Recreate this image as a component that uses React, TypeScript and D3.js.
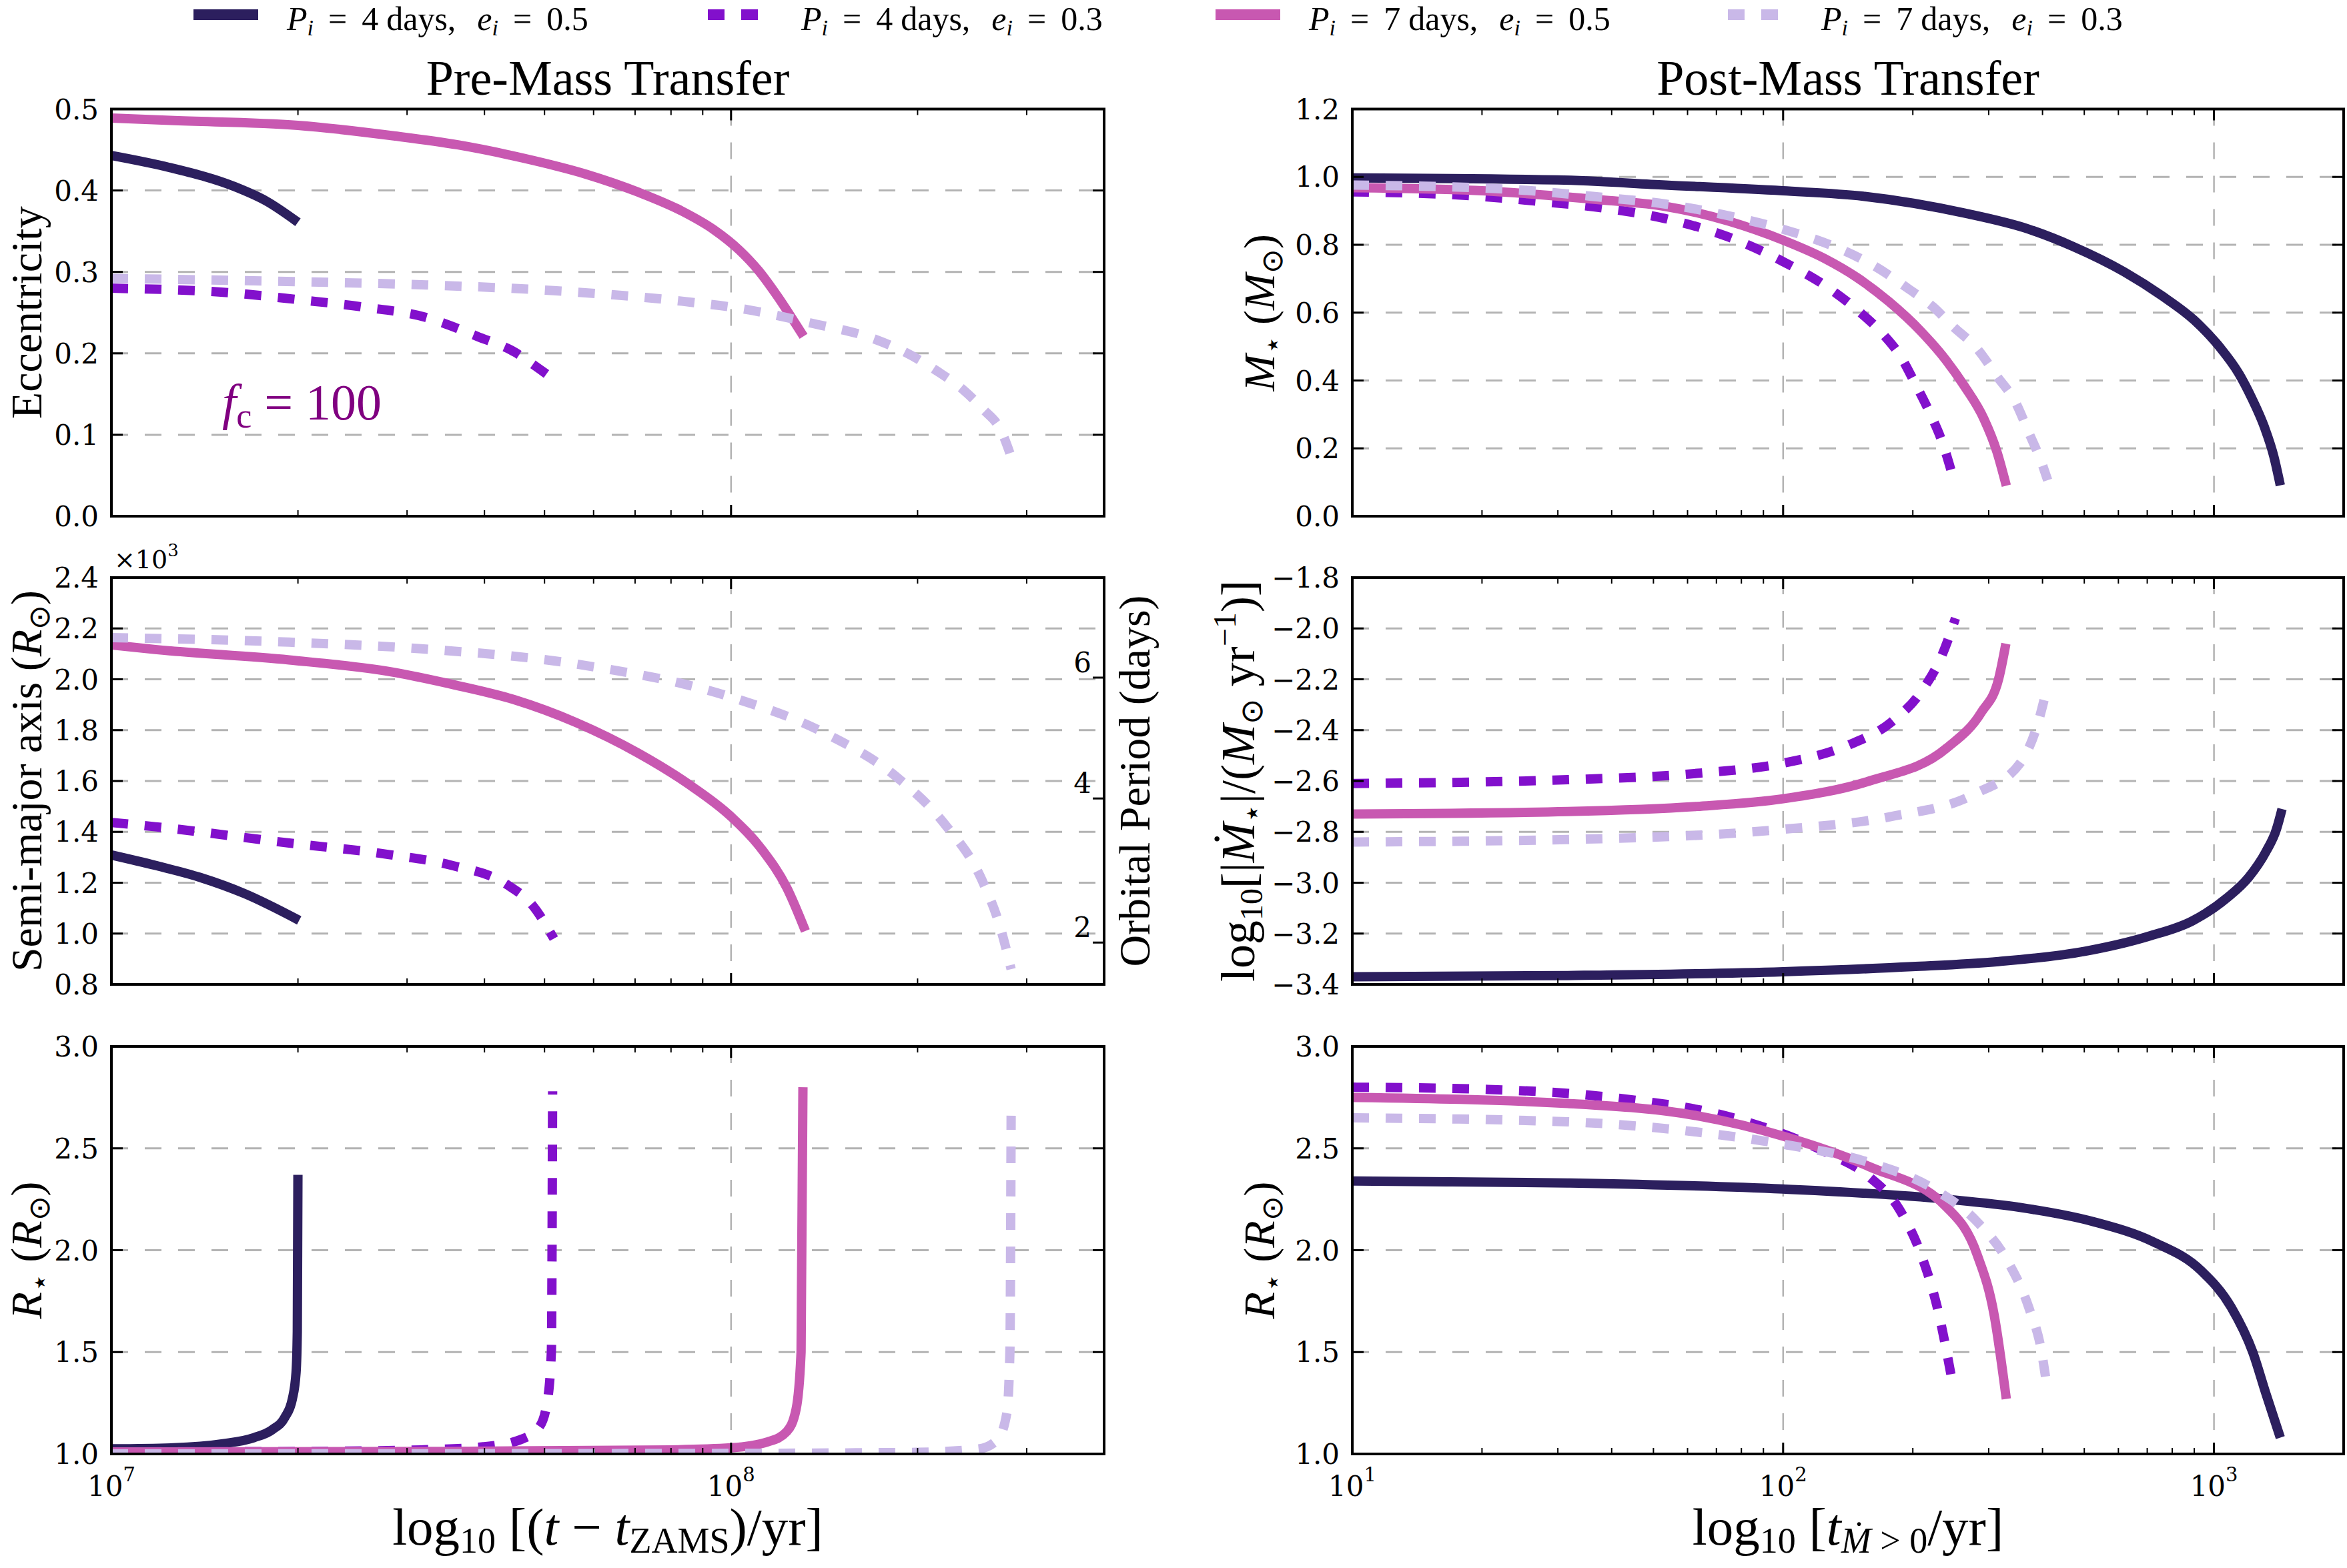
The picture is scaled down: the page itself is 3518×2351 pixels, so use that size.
import React from 'react';
import * as d3 from 'd3';

type Pt = [number, number];

const W = 3518;
const H = 2351;

// series order: [P=4d e=0.5, P=4d e=0.3, P=7d e=0.5, P=7d e=0.3]
const COLORS = ['#2c1f5e', '#8210cc', '#c858b1', '#c9b8e8'];
const DASHED = [false, true, false, true];
const LEGEND_P = ['4', '4', '7', '7'];
const LEGEND_E = ['0.5', '0.3', '0.5', '0.3'];

// ---------- Pre-mass transfer (x = log10 [(t - tZAMS)/yr]) ----------
const preEcc_P4e05: Pt[] = [[7.0, 0.443], [7.095, 0.428], [7.198, 0.405], [7.25, 0.387], [7.301, 0.361]];
const preEcc_P4e03: Pt[] = [[7.0, 0.28], [7.198, 0.274], [7.301, 0.266], [7.405, 0.257], [7.508, 0.244], [7.59, 0.221], [7.652, 0.201], [7.683, 0.185], [7.714, 0.168]];
const preEcc_P7e05: Pt[] = [[7.0, 0.489], [7.095, 0.486], [7.301, 0.48], [7.456, 0.467], [7.559, 0.456], [7.663, 0.44], [7.766, 0.42], [7.85, 0.398], [7.92, 0.375], [7.972, 0.352], [8.013, 0.327], [8.044, 0.302], [8.075, 0.27], [8.101, 0.24], [8.117, 0.221]];
const preEcc_P7e03: Pt[] = [[7.0, 0.292], [7.301, 0.288], [7.508, 0.284], [7.714, 0.277], [7.921, 0.264], [8.024, 0.254], [8.127, 0.2375], [8.23, 0.218], [8.282, 0.201], [8.333, 0.178], [8.375, 0.155], [8.406, 0.132], [8.437, 0.103], [8.452, 0.073]];

// semi-major axis in units of 10^3 R_sun
const preA_P4e05: Pt[] = [[7.0, 1.309], [7.071, 1.268], [7.143, 1.221], [7.215, 1.157], [7.303, 1.052]];
const preA_P4e03: Pt[] = [[7.0, 1.437], [7.071, 1.42], [7.287, 1.356], [7.45, 1.31], [7.546, 1.27], [7.64, 1.19], [7.68, 1.11], [7.714, 0.98]];
const preA_P7e05: Pt[] = [[7.0, 2.135], [7.071, 2.117], [7.287, 2.076], [7.45, 2.03], [7.55, 1.98], [7.65, 1.92], [7.75, 1.83], [7.85, 1.71], [7.93, 1.59], [8.0, 1.46], [8.05, 1.33], [8.09, 1.18], [8.12, 1.01]];
const preA_P7e03: Pt[] = [[7.0, 2.164], [7.287, 2.146], [7.5, 2.12], [7.75, 2.06], [8.0, 1.93], [8.15, 1.79], [8.27, 1.61], [8.345, 1.43], [8.405, 1.21], [8.435, 1.02], [8.452, 0.86]];

const preR_P4e05: Pt[] = [[7.0, 1.025], [7.1, 1.03], [7.18, 1.05], [7.23, 1.08], [7.26, 1.12], [7.28, 1.18], [7.292, 1.27], [7.298, 1.4], [7.3, 1.6], [7.301, 2.37]];
const preR_P4e03: Pt[] = [[7.0, 1.01], [7.3, 1.012], [7.5, 1.02], [7.6, 1.035], [7.66, 1.07], [7.69, 1.13], [7.703, 1.25], [7.71, 1.5], [7.712, 2.78]];
const preR_P7e05: Pt[] = [[7.0, 1.01], [7.5, 1.012], [7.9, 1.02], [8.0, 1.03], [8.06, 1.06], [8.09, 1.11], [8.105, 1.22], [8.113, 1.5], [8.116, 2.8]];
const preR_P7e03: Pt[] = [[7.0, 1.0], [8.0, 1.003], [8.3, 1.008], [8.4, 1.025], [8.43, 1.07], [8.445, 1.2], [8.45, 1.5], [8.452, 2.66]];

// ---------- Post-mass transfer (x = log10 [t_{Mdot>0}/yr]) ----------
const postM_P4e05: Pt[] = [[1.0, 0.997], [1.476, 0.991], [1.727, 0.976], [1.999, 0.959], [2.186, 0.943], [2.422, 0.893], [2.57, 0.846], [2.673, 0.795], [2.792, 0.72], [2.88, 0.649], [2.954, 0.578], [3.013, 0.499], [3.058, 0.42], [3.087, 0.35], [3.117, 0.263], [3.139, 0.176], [3.154, 0.091]];
const postM_P4e03: Pt[] = [[1.0, 0.956], [1.284, 0.944], [1.432, 0.928], [1.579, 0.909], [1.727, 0.877], [1.875, 0.822], [1.999, 0.751], [2.097, 0.68], [2.171, 0.609], [2.23, 0.539], [2.274, 0.468], [2.304, 0.397], [2.341, 0.303], [2.37, 0.216], [2.393, 0.121]];
const postM_P7e05: Pt[] = [[1.0, 0.968], [1.284, 0.96], [1.579, 0.932], [1.727, 0.913], [1.875, 0.869], [1.999, 0.814], [2.097, 0.759], [2.171, 0.704], [2.245, 0.633], [2.319, 0.546], [2.378, 0.46], [2.422, 0.381], [2.466, 0.287], [2.496, 0.191], [2.518, 0.09]];
const postM_P7e03: Pt[] = [[1.0, 0.976], [1.358, 0.964], [1.579, 0.94], [1.727, 0.92], [1.875, 0.885], [1.999, 0.846], [2.126, 0.791], [2.215, 0.735], [2.289, 0.672], [2.348, 0.617], [2.392, 0.562], [2.452, 0.491], [2.496, 0.413], [2.54, 0.334], [2.57, 0.247], [2.599, 0.161], [2.614, 0.106]];

const postMdot_P4e05: Pt[] = [[1.0, -3.37], [1.5, -3.365], [2.0, -3.35], [2.3, -3.33], [2.5, -3.31], [2.7, -3.27], [2.85, -3.21], [2.95, -3.15], [3.03, -3.06], [3.08, -2.98], [3.12, -2.88], [3.145, -2.79], [3.158, -2.71]];
const postMdot_P4e03: Pt[] = [[1.0, -2.61], [1.5, -2.595], [1.8, -2.57], [2.0, -2.53], [2.15, -2.46], [2.25, -2.37], [2.32, -2.25], [2.37, -2.1], [2.4, -1.96]];
const postMdot_P7e05: Pt[] = [[1.0, -2.73], [1.5, -2.72], [1.8, -2.7], [2.0, -2.67], [2.2, -2.6], [2.38, -2.47], [2.46, -2.33], [2.5, -2.2], [2.517, -2.06]];
const postMdot_P7e03: Pt[] = [[1.0, -2.84], [1.5, -2.83], [2.0, -2.79], [2.25, -2.74], [2.446, -2.65], [2.55, -2.53], [2.59, -2.38], [2.613, -2.23]];

const postR_P4e05: Pt[] = [[1.0, 2.34], [1.5, 2.33], [2.0, 2.3], [2.38, 2.25], [2.55, 2.21], [2.72, 2.14], [2.86, 2.04], [2.97, 1.9], [3.04, 1.72], [3.09, 1.5], [3.12, 1.3], [3.154, 1.08]];
const postR_P4e03: Pt[] = [[1.0, 2.8], [1.3, 2.79], [1.6, 2.75], [1.9, 2.64], [2.1, 2.48], [2.2, 2.36], [2.27, 2.2], [2.32, 1.98], [2.36, 1.7], [2.393, 1.35]];
const postR_P7e05: Pt[] = [[1.0, 2.75], [1.5, 2.72], [1.8, 2.66], [2.0, 2.56], [2.2, 2.41], [2.38, 2.21], [2.45, 1.98], [2.49, 1.68], [2.518, 1.27]];
const postR_P7e03: Pt[] = [[1.0, 2.65], [1.5, 2.63], [1.8, 2.58], [2.0, 2.52], [2.2, 2.43], [2.35, 2.3], [2.45, 2.14], [2.52, 1.95], [2.57, 1.72], [2.6, 1.5], [2.613, 1.32]];

// axis ticks
const eccTicks = [0.0, 0.1, 0.2, 0.3, 0.4, 0.5];
const aTicks = [0.8, 1.0, 1.2, 1.4, 1.6, 1.8, 2.0, 2.2, 2.4];
const rTicks = [1.0, 1.5, 2.0, 2.5, 3.0];
const mTicks = [0.0, 0.2, 0.4, 0.6, 0.8, 1.0, 1.2];
const mdotTicks = [-3.4, -3.2, -3.0, -2.8, -2.6, -2.4, -2.2, -2.0, -1.8];
const periodTicks = [2, 4, 6];
const PERIOD_TO_A = 0.6077; // a [10^3 Rsun] = k * P[days]^(2/3)

const preXMajor = [1e7, 1e8];
const preXMinor = [2e7, 3e7, 4e7, 5e7, 6e7, 7e7, 8e7, 9e7, 2e8, 3e8];
const postXMajor = [10, 100, 1000];
const postXMinor = [20, 30, 40, 50, 60, 70, 80, 90, 200, 300, 400, 500, 600, 700, 800, 900];

// layout
const LEFT: [number, number] = [167, 1655];
const RIGHT: [number, number] = [2027, 3513];
const ROWS: [number, number][] = [[163.5, 774], [866, 1476], [1569, 2180]];

const SERIF = "'Liberation Serif', 'Times New Roman', serif";
const TICKF = "'DejaVu Serif', 'Liberation Serif', serif";
const LW = 14;
const DASH = '25,25';
const GRID = '#b3b3b3';

const preX = d3.scaleLog().domain([1e7, 4e8]).range(LEFT);
const postX = d3.scaleLog().domain([10, 2000]).range(RIGHT);

type PanelProps = {
  id: string;
  xs: d3.ScaleLogarithmic<number, number>;
  xr: [number, number];
  yr: [number, number];
  yDomain: [number, number];
  yTicks: number[];
  fmt: (v: number) => string;
  series: Pt[][];
  xMajor: number[];
  xMinor: number[];
  xGrid: number[];
  xLabels: boolean;
  mirrorY: boolean;
  extra?: (ys: d3.ScaleLinear<number, number>) => React.ReactNode;
};

function Panel(p: PanelProps) {
  const [x0, x1] = p.xr;
  const [y0, y1] = p.yr;
  const ys = d3.scaleLinear().domain(p.yDomain).range([y1, y0]);
  const line = d3
    .line<Pt>()
    .x((d) => p.xs(Math.pow(10, d[0])))
    .y((d) => ys(d[1]))
    .curve(d3.curveMonotoneX);
  const inner = p.yTicks.filter((t) => ys(t) > y0 + 1 && ys(t) < y1 - 1);
  return (
    <g>
      <defs>
        <clipPath id={p.id}>
          <rect x={x0} y={y0} width={x1 - x0} height={y1 - y0} />
        </clipPath>
      </defs>
      {inner.map((t, i) => (
        <line key={'gy' + i} x1={x0} x2={x1} y1={ys(t)} y2={ys(t)} stroke={GRID} strokeWidth={3} strokeDasharray={DASH} />
      ))}
      {p.xGrid.map((t, i) => (
        <line key={'gx' + i} x1={p.xs(t)} x2={p.xs(t)} y1={y0} y2={y1} stroke={GRID} strokeWidth={2.5} strokeDasharray={DASH} />
      ))}
      <g clipPath={`url(#${p.id})`}>
        {p.series.map((s, i) => (
          <path
            key={'s' + i}
            d={line(s) || ''}
            fill="none"
            stroke={COLORS[i]}
            strokeWidth={LW}
            strokeDasharray={DASHED[i] ? DASH : undefined}
            strokeLinecap="butt"
            strokeLinejoin="round"
          />
        ))}
      </g>
      {p.yTicks.map((t, i) => (
        <g key={'ty' + i}>
          <line x1={x0} x2={x0 + 17} y1={ys(t)} y2={ys(t)} stroke="#000" strokeWidth={3} />
          {p.mirrorY && <line x1={x1 - 17} x2={x1} y1={ys(t)} y2={ys(t)} stroke="#000" strokeWidth={3} />}
          <text x={x0 - 19} y={ys(t)} dy="0.36em" textAnchor="end" fontFamily={TICKF} fontSize={42}>
            {p.fmt(t)}
          </text>
        </g>
      ))}
      {p.xMajor.map((t, i) => (
        <g key={'tx' + i}>
          <line x1={p.xs(t)} x2={p.xs(t)} y1={y1} y2={y1 - 17} stroke="#000" strokeWidth={3} />
          <line x1={p.xs(t)} x2={p.xs(t)} y1={y0} y2={y0 + 17} stroke="#000" strokeWidth={3} />
          {p.xLabels && (
            <text x={p.xs(t)} y={y1 + 63} textAnchor="middle" fontFamily={TICKF} fontSize={42}>
              <tspan>10</tspan>
              <tspan fontSize={29} dy={-22}>{String(Math.round(Math.log10(t)))}</tspan>
            </text>
          )}
        </g>
      ))}
      {p.xMinor.map((t, i) => (
        <g key={'tm' + i}>
          <line x1={p.xs(t)} x2={p.xs(t)} y1={y1} y2={y1 - 9} stroke="#000" strokeWidth={2} />
          <line x1={p.xs(t)} x2={p.xs(t)} y1={y0} y2={y0 + 9} stroke="#000" strokeWidth={2} />
        </g>
      ))}
      {p.extra && p.extra(ys)}
      <rect x={x0} y={y0} width={x1 - x0} height={y1 - y0} fill="none" stroke="#000" strokeWidth={4} />
    </g>
  );
}

const f1 = d3.format('.1f');

function YLabel({ x, y, size = 66, children }: { x: number; y: number; size?: number; children: React.ReactNode }) {
  return (
    <text transform={`translate(${x},${y}) rotate(-90)`} textAnchor="middle" fontFamily={SERIF} fontSize={size}>
      {children}
    </text>
  );
}

export default function App() {
  const midY = (r: [number, number]) => (r[0] + r[1]) / 2;
  const legendX = [290, 1061, 1822, 2590];
  return (
    <svg width={W} height={H} viewBox={`0 0 ${W} ${H}`} style={{ position: 'absolute', left: 0, top: 0, background: '#fff' }}>
      <rect x={0} y={0} width={W} height={H} fill="#fff" />
      {/* legend */}
      {legendX.map((lx, i) => (
        <g key={'lg' + i}>
          <line x1={lx} x2={lx + 97} y1={22} y2={22} stroke={COLORS[i]} strokeWidth={16} strokeDasharray={DASHED[i] ? DASH : undefined} />
          <text x={lx + 140} y={45} fontFamily={SERIF} fontSize={50}>
            <tspan fontStyle="italic">P</tspan>
            <tspan fontStyle="italic" fontSize={34} dy={8}>i</tspan>
            <tspan dy={-8} dx={22}>=</tspan>
            <tspan dx={22}>{LEGEND_P[i]}</tspan>
            <tspan dx={12}>days,</tspan>
            <tspan dx={32} fontStyle="italic">e</tspan>
            <tspan fontStyle="italic" fontSize={34} dy={8}>i</tspan>
            <tspan dy={-8} dx={22}>=</tspan>
            <tspan dx={22}>{LEGEND_E[i]}</tspan>
          </text>
        </g>
      ))}
      {/* titles */}
      <text x={(LEFT[0] + LEFT[1]) / 2} y={142} textAnchor="middle" fontFamily={SERIF} fontSize={74}>Pre-Mass Transfer</text>
      <text x={(RIGHT[0] + RIGHT[1]) / 2} y={142} textAnchor="middle" fontFamily={SERIF} fontSize={74}>Post-Mass Transfer</text>

      {/* Left column */}
      <Panel id="c1" xs={preX} xr={LEFT} yr={ROWS[0]} yDomain={[0, 0.5]} yTicks={eccTicks} fmt={f1}
        series={[preEcc_P4e05, preEcc_P4e03, preEcc_P7e05, preEcc_P7e03]}
        xMajor={preXMajor} xMinor={preXMinor} xGrid={[1e8]} xLabels={false} mirrorY={true}
        extra={() => (
          <text x={333} y={629} fontFamily={SERIF} fontSize={76} fill="#800080">
            <tspan fontStyle="italic">f</tspan>
            <tspan fontSize={52} dy={12}>c</tspan>
            <tspan dy={-12}>{' = 100'}</tspan>
          </text>
        )}
      />
      <Panel id="c2" xs={preX} xr={LEFT} yr={ROWS[1]} yDomain={[0.8, 2.4]} yTicks={aTicks} fmt={f1}
        series={[preA_P4e05, preA_P4e03, preA_P7e05, preA_P7e03]}
        xMajor={preXMajor} xMinor={preXMinor} xGrid={[1e8]} xLabels={false} mirrorY={false}
        extra={(ys) => (
          <g>
            <text x={LEFT[0] + 4} y={ROWS[1][0] - 14} fontFamily={TICKF} fontSize={38}>
              <tspan>×10</tspan>
              <tspan fontSize={26} dy={-18}>3</tspan>
            </text>
            {periodTicks.map((pd, i) => {
              const yy = ys(PERIOD_TO_A * Math.pow(pd, 2 / 3));
              return (
                <g key={'pt' + i}>
                  <line x1={LEFT[1] - 17} x2={LEFT[1]} y1={yy} y2={yy} stroke="#000" strokeWidth={3} />
                  <text x={LEFT[1] - 19} y={yy - 8} textAnchor="end" fontFamily={TICKF} fontSize={42}>{pd}</text>
                </g>
              );
            })}
          </g>
        )}
      />
      <Panel id="c3" xs={preX} xr={LEFT} yr={ROWS[2]} yDomain={[1, 3]} yTicks={rTicks} fmt={f1}
        series={[preR_P4e05, preR_P4e03, preR_P7e05, preR_P7e03]}
        xMajor={preXMajor} xMinor={preXMinor} xGrid={[1e8]} xLabels={true} mirrorY={true}
      />

      {/* Right column */}
      <Panel id="c4" xs={postX} xr={RIGHT} yr={ROWS[0]} yDomain={[0, 1.2]} yTicks={mTicks} fmt={f1}
        series={[postM_P4e05, postM_P4e03, postM_P7e05, postM_P7e03]}
        xMajor={postXMajor} xMinor={postXMinor} xGrid={[100, 1000]} xLabels={false} mirrorY={true}
      />
      <Panel id="c5" xs={postX} xr={RIGHT} yr={ROWS[1]} yDomain={[-3.4, -1.8]} yTicks={mdotTicks} fmt={f1}
        series={[postMdot_P4e05, postMdot_P4e03, postMdot_P7e05, postMdot_P7e03]}
        xMajor={postXMajor} xMinor={postXMinor} xGrid={[100, 1000]} xLabels={false} mirrorY={true}
      />
      <Panel id="c6" xs={postX} xr={RIGHT} yr={ROWS[2]} yDomain={[1, 3]} yTicks={rTicks} fmt={f1}
        series={[postR_P4e05, postR_P4e03, postR_P7e05, postR_P7e03]}
        xMajor={postXMajor} xMinor={postXMinor} xGrid={[100, 1000]} xLabels={true} mirrorY={true}
      />

      {/* y labels left */}
      <YLabel x={62} y={midY(ROWS[0])}>Eccentricity</YLabel>
      <YLabel x={62} y={midY(ROWS[1])}>
        <tspan>Semi-major axis (</tspan>
        <tspan fontStyle="italic">R</tspan>
        <tspan fontSize={44} dy={12}>⊙</tspan>
        <tspan dy={-12}>)</tspan>
      </YLabel>
      <YLabel x={62} y={midY(ROWS[2])}>
        <tspan fontStyle="italic">R</tspan>
        <tspan fontSize={44} dy={12}>⋆</tspan>
        <tspan dy={-12}>{' ('}</tspan>
        <tspan fontStyle="italic">R</tspan>
        <tspan fontSize={44} dy={12}>⊙</tspan>
        <tspan dy={-12}>)</tspan>
      </YLabel>
      <YLabel x={1723} y={midY(ROWS[1])}>Orbital Period (days)</YLabel>

      {/* y labels right */}
      <YLabel x={1910} y={midY(ROWS[0])}>
        <tspan fontStyle="italic">M</tspan>
        <tspan fontSize={44} dy={12}>⋆</tspan>
        <tspan dy={-12}>{' ('}</tspan>
        <tspan fontStyle="italic">M</tspan>
        <tspan fontSize={44} dy={12}>⊙</tspan>
        <tspan dy={-12}>)</tspan>
      </YLabel>
      <YLabel x={1880} y={midY(ROWS[1])} size={72}>
        <tspan>log</tspan>
        <tspan fontSize={48} dy={12}>10</tspan>
        <tspan dy={-12}>[|</tspan>
        <tspan fontStyle="italic">Ṁ</tspan>
        <tspan fontSize={46} dy={12}>⋆</tspan>
        <tspan dy={-12}>|/(</tspan>
        <tspan fontStyle="italic">M</tspan>
        <tspan fontSize={46} dy={12}>⊙</tspan>
        <tspan dy={-12}>{' yr'}</tspan>
        <tspan fontSize={48} dy={-28}>−1</tspan>
        <tspan dy={28}>)]</tspan>
      </YLabel>
      <YLabel x={1910} y={midY(ROWS[2])}>
        <tspan fontStyle="italic">R</tspan>
        <tspan fontSize={44} dy={12}>⋆</tspan>
        <tspan dy={-12}>{' ('}</tspan>
        <tspan fontStyle="italic">R</tspan>
        <tspan fontSize={44} dy={12}>⊙</tspan>
        <tspan dy={-12}>)</tspan>
      </YLabel>

      {/* x labels */}
      <text x={(LEFT[0] + LEFT[1]) / 2} y={2316} textAnchor="middle" fontFamily={SERIF} fontSize={79}>
        <tspan>log</tspan>
        <tspan fontSize={54} dy={12}>10</tspan>
        <tspan dy={-12}>{' [('}</tspan>
        <tspan fontStyle="italic">t</tspan>
        <tspan>{' − '}</tspan>
        <tspan fontStyle="italic">t</tspan>
        <tspan fontSize={54} dy={12}>ZAMS</tspan>
        <tspan dy={-12}>)/yr]</tspan>
      </text>
      <text x={(RIGHT[0] + RIGHT[1]) / 2} y={2316} textAnchor="middle" fontFamily={SERIF} fontSize={79}>
        <tspan>log</tspan>
        <tspan fontSize={54} dy={12}>10</tspan>
        <tspan dy={-12}>{' ['}</tspan>
        <tspan fontStyle="italic">t</tspan>
        <tspan fontSize={54} dy={12} fontStyle="italic">Ṁ</tspan>
        <tspan fontSize={54}>{' > 0'}</tspan>
        <tspan dy={-12}>/yr]</tspan>
      </text>
    </svg>
  );
}
